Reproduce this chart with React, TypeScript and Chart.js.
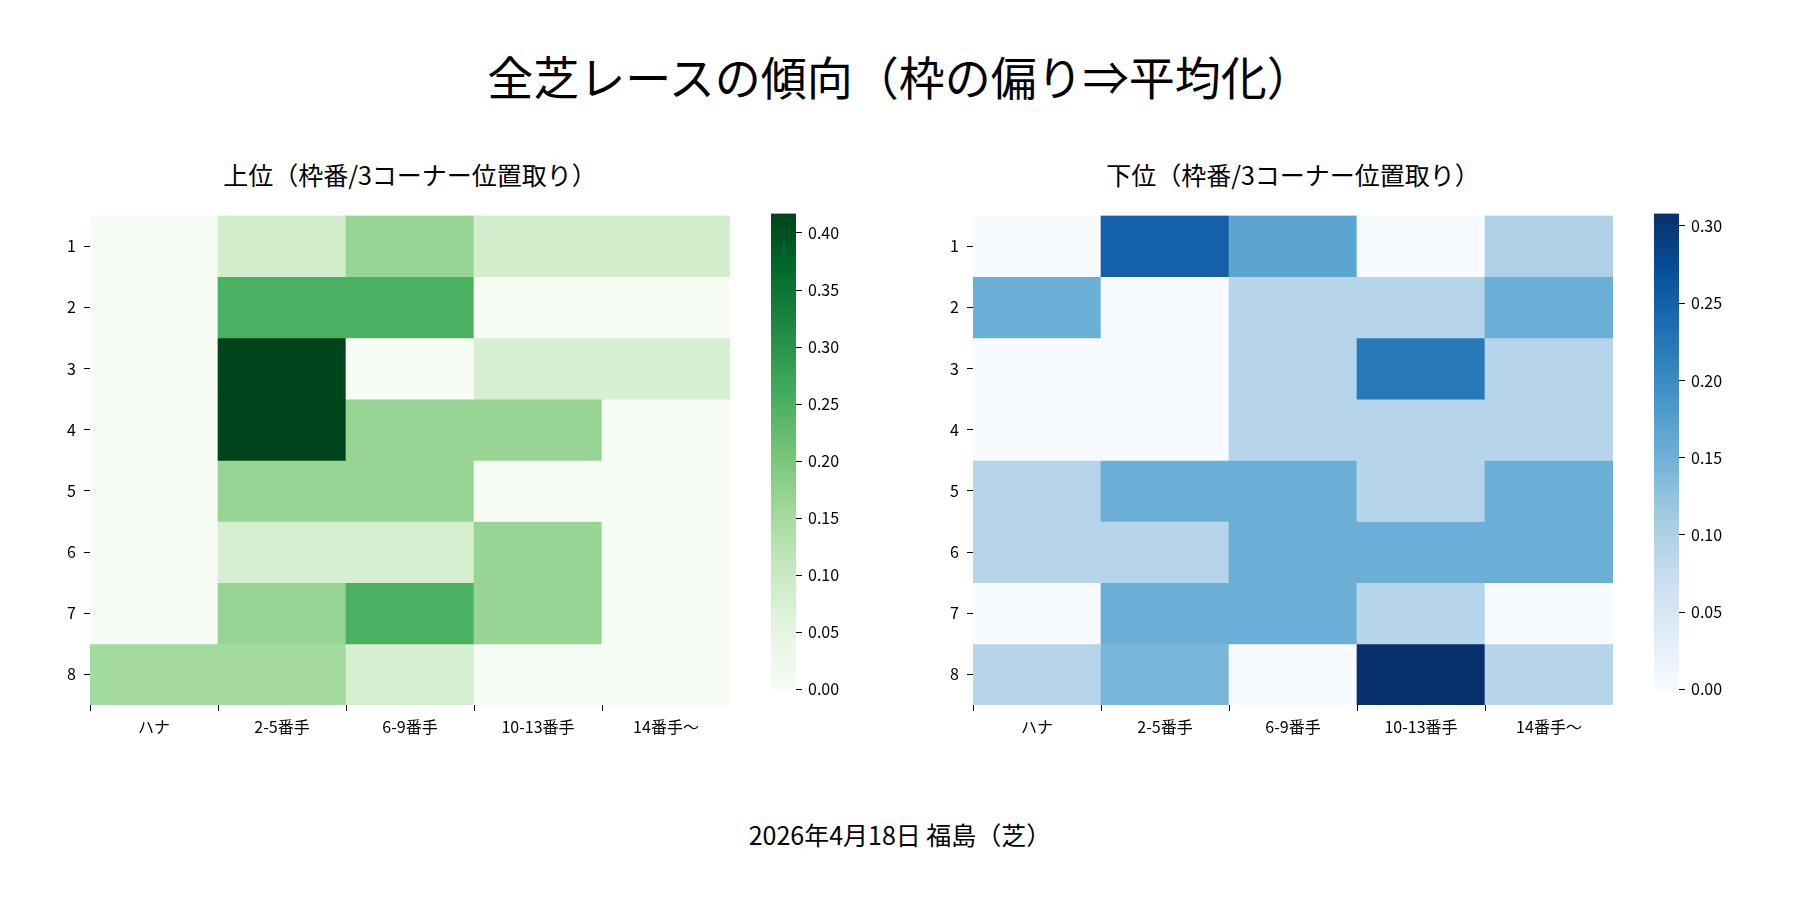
import React, { useEffect, useRef } from "react";
import { Chart, registerables } from "chart.js";
Chart.register(...registerables);

const columns = ["ハナ", "2-5番手", "6-9番手", "10-13番手", "14番手〜"];
const rows = [1, 2, 3, 4, 5, 6, 7, 8];
const topValues = [
  [0, 0.083, 0.167, 0.083, 0.083],
  [0, 0.25, 0.25, 0, 0],
  [0, 0.417, 0, 0.077, 0.077],
  [0, 0.417, 0.167, 0.167, 0],
  [0, 0.167, 0.167, 0, 0],
  [0, 0.077, 0.077, 0.167, 0],
  [0, 0.167, 0.25, 0.167, 0],
  [0.154, 0.154, 0.077, 0, 0],
];
const bottomValues = [
  [0, 0.25, 0.167, 0, 0.1],
  [0.154, 0, 0.091, 0.091, 0.154],
  [0, 0, 0.091, 0.222, 0.091],
  [0, 0, 0.091, 0.091, 0.091],
  [0.091, 0.154, 0.154, 0.091, 0.154],
  [0.091, 0.091, 0.154, 0.154, 0.154],
  [0, 0.154, 0.154, 0.091, 0],
  [0.091, 0.143, 0, 0.308, 0.091],
];
const greens = ["#f7fcf5", "#e5f5e0", "#c7e9c0", "#a1d99b", "#74c476", "#41ab5d", "#238b45", "#006d2c", "#00441b"];
const blues = ["#f7fbff", "#deebf7", "#c6dbef", "#9ecae1", "#6baed6", "#4292c6", "#2171b5", "#08519c", "#08306b"];

const FONT = "'Noto Sans CJK JP', 'DejaVu Sans', sans-serif";

function hex(c: string) {
  return [1, 3, 5].map((i) => parseInt(c.slice(i, i + 2), 16));
}
function cmap(stops: string[], t: number) {
  t = Math.max(0, Math.min(1, t));
  const p = t * (stops.length - 1);
  const i = Math.min(stops.length - 2, Math.floor(p));
  const f = p - i;
  const a = hex(stops[i]), b = hex(stops[i + 1]);
  const m = a.map((v, k) => Math.round(v + (b[k] - v) * f));
  return `rgb(${m[0]},${m[1]},${m[2]})`;
}

const tickFont = { family: FONT, size: 16 };

function Heatmap({ values, stops, left }: { values: number[][]; stops: string[]; left: number }) {
  const ref = useRef<HTMLCanvasElement>(null);
  useEffect(() => {
    const max = Math.max(...values.flat());
    const chart = new Chart(ref.current!, {
      type: "bar",
      data: {
        labels: columns,
        datasets: rows.map((r, ri) => ({
          data: values[ri].map(() => [r - 0.5, r + 0.5]) as any,
          backgroundColor: values[ri].map((v) => cmap(stops, v / max)),
          borderWidth: 0,
          barPercentage: 1,
          categoryPercentage: 1,
          grouped: false,
        })),
      },
      options: {
        animation: false,
        responsive: true,
        maintainAspectRatio: false,
        layout: { padding: 0 },
        plugins: { legend: { display: false }, tooltip: { enabled: false } },
        scales: {
          x: {
            grid: { drawOnChartArea: false, drawTicks: true, tickLength: 6, color: "#000" },
            border: { display: false },
            ticks: { font: tickFont, color: "#000", padding: 6 },
            afterFit: (s: any) => { s.height = 60; },
          },
          y: {
            type: "linear",
            reverse: true,
            min: 0.5,
            max: 8.5,
            grid: { drawOnChartArea: false, drawTicks: true, tickLength: 6, color: "#000" },
            border: { display: false },
            ticks: { font: tickFont, color: "#000", padding: 8 },
            afterBuildTicks: (s: any) => { s.ticks = rows.map((v) => ({ value: v })); },
            afterFit: (s: any) => { s.width = 50; },
          },
        },
      },
    });
    return () => chart.destroy();
  }, []);
  return (
    <div style={{ position: "absolute", left: left - 50, top: 198, width: 690, height: 567 }}>
      <canvas ref={ref} />
    </div>
  );
}

function Colorbar({ values, stops, left }: { values: number[][]; stops: string[]; left: number }) {
  const ref = useRef<HTMLCanvasElement>(null);
  useEffect(() => {
    const max = Math.max(...values.flat());
    const grad = {
      id: "grad",
      beforeDatasetsDraw(c: any) {
        const { ctx, chartArea: a } = c;
        const g = ctx.createLinearGradient(0, a.bottom, 0, a.top);
        for (let i = 0; i <= 20; i++) g.addColorStop(i / 20, cmap(stops, i / 20));
        ctx.save();
        ctx.fillStyle = g;
        ctx.fillRect(a.left, a.top, a.right - a.left, a.bottom - a.top);
        ctx.restore();
      },
    };
    const tickVals: number[] = [];
    for (let v = 0; v <= max + 1e-9; v += 0.05) tickVals.push(+v.toFixed(2));
    const chart = new Chart(ref.current!, {
      type: "bar",
      data: { labels: [""], datasets: [{ data: [0] }] },
      plugins: [grad],
      options: {
        animation: false,
        responsive: true,
        maintainAspectRatio: false,
        layout: { padding: 0 },
        plugins: { legend: { display: false }, tooltip: { enabled: false } },
        scales: {
          x: { display: false },
          y: {
            type: "linear",
            position: "right",
            min: 0,
            max,
            grid: { drawOnChartArea: false, drawTicks: true, tickLength: 6, color: "#000" },
            border: { display: false },
            ticks: { font: tickFont, color: "#000", padding: 6, callback: (v: any) => Number(v).toFixed(2) },
            afterBuildTicks: (s: any) => { s.ticks = tickVals.map((v) => ({ value: v })); },
            afterFit: (s: any) => { s.width = 70; },
          },
        },
      },
    });
    return () => chart.destroy();
  }, []);
  return (
    <div style={{ position: "absolute", left, top: 198, width: 95, height: 507 }}>
      <canvas ref={ref} />
    </div>
  );
}

export default function App() {
  const text = (t: string, x: number, y: number, size: number) => (
    <div style={{ position: "absolute", left: x - 500, width: 1000, top: y - size * 0.7, textAlign: "center", fontSize: size, fontFamily: FONT, color: "#000", lineHeight: `${size * 1.4}px` }}>{t}</div>
  );
  return (
    <div style={{ position: "fixed", left: 0, top: 0, width: 1800, height: 900, background: "#fff", overflow: "hidden" }}>
      {text("全芝レースの傾向（枠の偏り⇒平均化）", 900, 75, 46)}
      {text("上位（枠番/3コーナー位置取り）", 410, 174, 25)}
      {text("下位（枠番/3コーナー位置取り）", 1293, 174, 25)}
      {text("2026年4月18日 福島（芝）", 900, 834, 25)}
      <Heatmap values={topValues} stops={greens} left={90} />
      <Colorbar values={topValues} stops={greens} left={771} />
      <Heatmap values={bottomValues} stops={blues} left={973} />
      <Colorbar values={bottomValues} stops={blues} left={1654} />
    </div>
  );
}
